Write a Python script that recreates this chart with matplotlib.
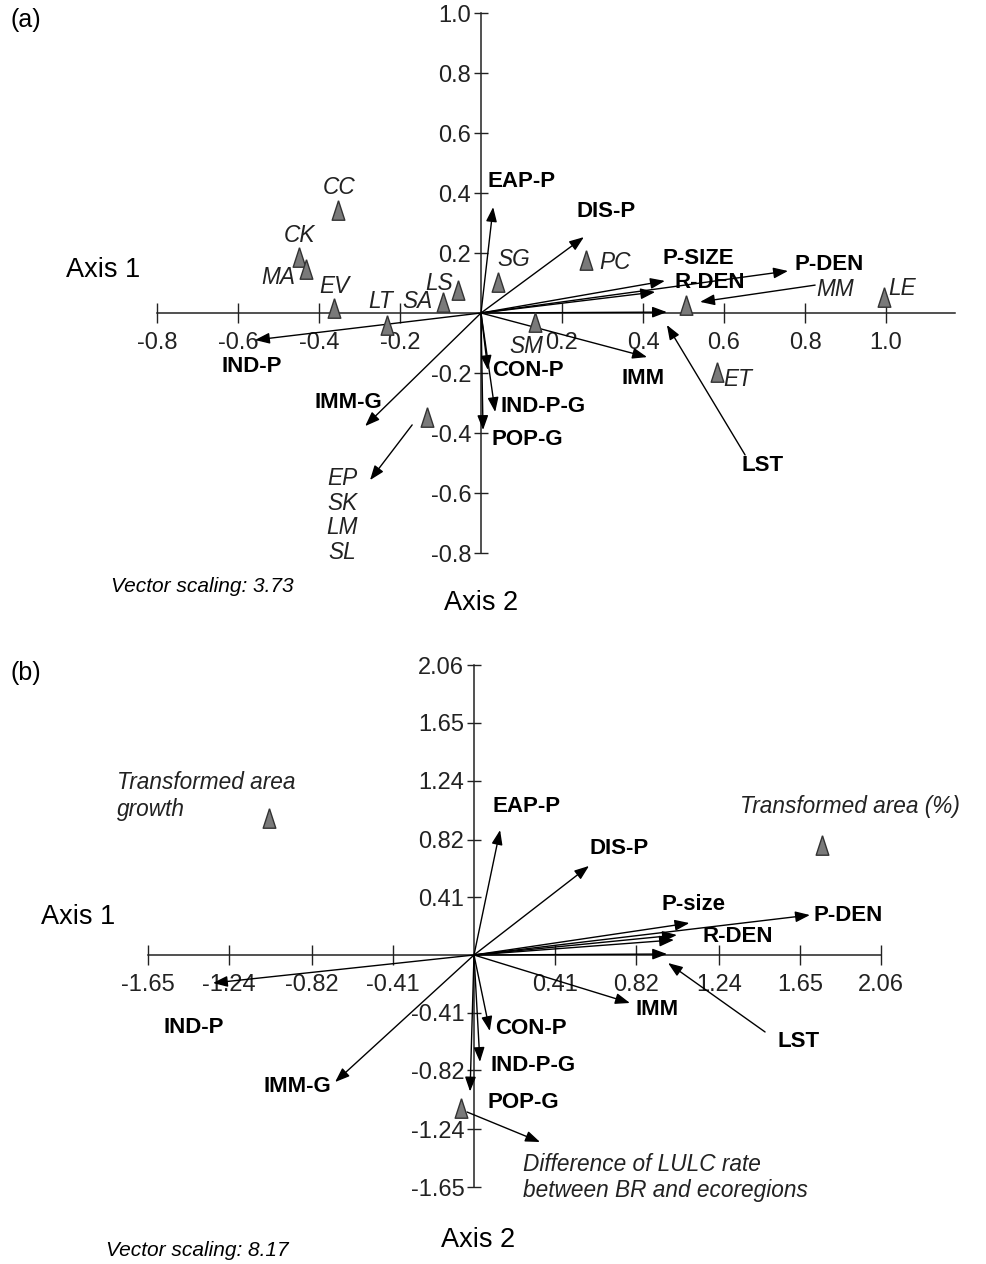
import matplotlib
matplotlib.use("Agg")
import matplotlib.pyplot as plt

plt.rcParams['font.family'] = ['Liberation Sans', 'DejaVu Sans']

# ---------------- data: panel (a) ----------------
a_ticks_x = [-0.8, -0.6, -0.4, -0.2, 0.2, 0.4, 0.6, 0.8, 1.0]
a_ticks_y = [-0.8, -0.6, -0.4, -0.2, 0.2, 0.4, 0.6, 0.8, 1.0]
a_ticklabels_x = ['-0.8', '-0.6', '-0.4', '-0.2', '0.2', '0.4', '0.6', '0.8', '1.0']
a_ticklabels_y = ['-0.8', '-0.6', '-0.4', '-0.2', '0.2', '0.4', '0.6', '0.8', '1.0']

a_sites = ['CC', 'CK', 'MA', 'EV', 'LT', 'SA', 'LS', 'SG', 'PC', 'SM', 'MM', 'LE', 'ET',
           'EP\nSK\nLM\nSL']
a_site_x = [-0.353, -0.449, -0.432, -0.363, -0.232, -0.094, -0.057, 0.042, 0.259, 0.133,
            0.506, 0.995, 0.583, -0.133]
a_site_y = [0.343, 0.187, 0.147, 0.017, -0.040, 0.037, 0.077, 0.103, 0.177, -0.030,
            0.027, 0.053, -0.197, -0.347]

a_vars = ['EAP-P', 'DIS-P', 'P-SIZE', 'R-DEN', 'P-DEN', 'LST', 'IMM', 'CON-P', 'IND-P-G',
          'POP-G', 'IND-P', 'IMM-G']
a_var_x = [0.030, 0.254, 0.454, 0.430, 0.758, 0.459, 0.410, 0.017, 0.035, 0.005, -0.558, -0.286]
a_var_y = [0.353, 0.253, 0.107, 0.070, 0.140, 0.003, -0.147, -0.190, -0.330, -0.390, -0.090, -0.377]

# ---------------- data: panel (b) ----------------
b_ticks = [-1.65, -1.24, -0.82, -0.41, 0.41, 0.82, 1.24, 1.65, 2.06]
b_ticklabels = ['-1.65', '-1.24', '-0.82', '-0.41', '0.41', '0.82', '1.24', '1.65', '2.06']

b_sites = ['Transformed area\ngrowth', 'Transformed area (%)',
           'Difference of LULC rate\nbetween BR and ecoregions']
b_site_x = [-1.037, 1.761, -0.066]
b_site_y = [0.974, 0.782, -1.087]

b_vars = ['EAP-P', 'DIS-P', 'P-size', 'R-DEN', '', 'P-DEN', 'LST', 'IMM', 'CON-P', 'IND-P-G',
          'POP-G', 'IND-P', 'IMM-G']
b_var_x = [0.132, 0.582, 1.090, 1.027, 1.012, 1.700, 0.977, 0.789, 0.080, 0.030, -0.020, -1.321, -0.703]
b_var_y = [0.888, 0.633, 0.227, 0.142, 0.107, 0.284, 0.007, -0.341, -0.540, -0.760, -0.970, -0.199, -0.903]

# ---------------- layout (label positions, styles) ----------------
a_var_lab = {  # (x, y, ha)
    'EAP-P': (0.015, 0.437, 'left'), 'DIS-P': (0.235, 0.337, 'left'),
    'P-SIZE': (0.449, 0.183, 'left'), 'R-DEN': (0.479, 0.103, 'left'),
    'P-DEN': (0.775, 0.160, 'left'), 'LST': (0.696, -0.507, 'center'),
    'IMM': (0.400, -0.217, 'center'), 'CON-P': (0.027, -0.190, 'left'),
    'IND-P-G': (0.047, -0.313, 'left'), 'POP-G': (0.027, -0.423, 'left'),
    'IND-P': (-0.565, -0.180, 'center'), 'IMM-G': (-0.328, -0.300, 'center'),
}
a_site_lab = {
    'CC': (-0.351, 0.420), 'CK': (-0.449, 0.260), 'MA': (-0.501, 0.120),
    'EV': (-0.363, 0.087), 'LT': (-0.247, 0.037), 'SA': (-0.158, 0.037),
    'LS': (-0.104, 0.100), 'SG': (0.081, 0.177), 'PC': (0.331, 0.167),
    'SM': (0.112, -0.113), 'MM': (0.874, 0.077), 'LE': (1.040, 0.083),
    'ET': (0.635, -0.223), 'EP\nSK\nLM\nSL': (-0.343, -0.675),
}
a_leaders = [((0.652, -0.473), (0.459, -0.040)),   # LST label -> vector
             ((0.825, 0.093), (0.541, 0.037)),     # MM label -> site
             ((-0.170, -0.373), (-0.274, -0.557))]  # site -> EP/SK/LM/SL

b_var_lab = {
    'EAP-P': (0.096, 1.052, 'left'), 'DIS-P': (0.587, 0.760, 'left'),
    'P-size': (0.951, 0.362, 'left'), 'R-DEN': (1.154, 0.128, 'left'),
    'P-DEN': (1.716, 0.284, 'left'), 'LST': (1.640, -0.618, 'center'),
    'IMM': (0.815, -0.384, 'left'), 'CON-P': (0.106, -0.519, 'left'),
    'IND-P-G': (0.081, -0.782, 'left'), 'POP-G': (0.066, -1.045, 'left'),
    'IND-P': (-1.417, -0.512, 'center'), 'IMM-G': (-0.896, -0.938, 'center'),
}
b_site_lab = {
    'Transformed area\ngrowth': (-1.807, 1.130, 'left'),
    'Transformed area (%)': (2.460, 1.052, 'right'),
    'Difference of LULC rate\nbetween BR and ecoregions': (0.248, -1.581, 'left'),
}
b_leaders = [((1.473, -0.547), (0.982, -0.057)),
             ((-0.035, -1.116), (0.334, -1.329))]

W, H = 986, 1264
fig = plt.figure(figsize=(W / 100, H / 100), dpi=100)

TRI = [(0, 1), (-0.65, -1), (0.65, -1), (0, 1)]
AXCOL = '#222222'
ARROW = dict(arrowstyle='-|>,head_length=0.8,head_width=0.3', color='black', lw=1.0,
             shrinkA=0, shrinkB=0, mutation_scale=11)
BOLD_FS = 16
ITAL_FS = 16.3
TICK_FS = 17


def make_axes(px0, py0, ppx, ppy, top, bottom):
    ax = fig.add_axes([0, 1 - bottom / H, 1, (bottom - top) / H])
    ax.set_xlim((0 - px0) / ppx, (W - px0) / ppx)
    ax.set_ylim((py0 - bottom) / ppy, (py0 - top) / ppy)
    ax.patch.set_visible(False)
    for s in ('top', 'right'):
        ax.spines[s].set_visible(False)
    for s in ('left', 'bottom'):
        ax.spines[s].set_position(('data', 0))
        ax.spines[s].set_color(AXCOL)
        ax.spines[s].set_linewidth(1.1)
    ax.tick_params(axis='x', direction='inout', length=15, width=1.0, color=AXCOL,
                   labelsize=TICK_FS, pad=6, labelcolor='#222222')
    ax.tick_params(axis='y', direction='inout', length=10, width=1.0, color=AXCOL,
                   labelsize=TICK_FS, pad=2, labelcolor='#222222')
    return ax


def draw(ax, vx, vy, vnames, vlab, sx, sy, snames, leaders):
    for x, y in zip(vx, vy):
        ax.annotate('', xy=(x, y), xytext=(0, 0), arrowprops=ARROW, zorder=3)
    for name in vnames:
        if name in vlab:
            x, y, ha = vlab[name]
            ax.text(x, y, name, ha=ha, va='center', fontsize=BOLD_FS, fontweight='bold', zorder=5)
    ax.plot(sx, sy, linestyle='none', marker=TRI, markersize=14, markerfacecolor='#7a7a7a',
            markeredgecolor='#333333', markeredgewidth=1.0, zorder=4)
    for (x0, y0), (x1, y1) in leaders:
        ax.annotate('', xy=(x1, y1), xytext=(x0, y0), arrowprops=ARROW, zorder=3)


# ---------------- panel (a) ----------------
axa = make_axes(481, 313, 405, 300, 0, 632)
axa.spines['bottom'].set_bounds(-0.8, 1.17)
axa.spines['left'].set_bounds(-0.8, 1.0)
axa.set_xticks(a_ticks_x, a_ticklabels_x)
axa.set_yticks(a_ticks_y, a_ticklabels_y)
draw(axa, a_var_x, a_var_y, a_vars, a_var_lab, a_site_x, a_site_y, a_sites, a_leaders)
for name in a_sites:
    x, y = a_site_lab[name]
    axa.text(x, y, name, ha='center', va='center', fontsize=ITAL_FS, style='italic',
             color='#222222', linespacing=1.1, zorder=5)

# ---------------- panel (b) ----------------
axb = make_axes(474, 955, 197.6, 140.7, 632, 1264)
axb.spines['bottom'].set_bounds(-1.65, 2.06)
axb.spines['left'].set_bounds(-1.65, 2.06)
axb.set_xticks(b_ticks, b_ticklabels)
axb.set_yticks(b_ticks, b_ticklabels)
draw(axb, b_var_x, b_var_y, b_vars, b_var_lab, b_site_x, b_site_y, b_sites, b_leaders)
for name in b_sites:
    x, y, ha = b_site_lab[name]
    axb.text(x, y, name, ha=ha, va='center', fontsize=ITAL_FS, style='italic',
             color='#222222', linespacing=1.2, zorder=5)

# ---------------- figure-level texts (pixel positions) ----------------
def ftext(px, py, s, **kw):
    fig.text(px / W, 1 - py / H, s, **kw)

ftext(11, 20, '(a)', fontsize=18, ha='left', va='center')
ftext(103, 270, 'Axis 1', fontsize=19.5, ha='center', va='center')
ftext(481, 603, 'Axis 2', fontsize=19.5, ha='center', va='center')
ftext(111, 586, 'Vector scaling: 3.73', fontsize=15, style='italic', ha='left', va='center')

ftext(11, 673, '(b)', fontsize=18, ha='left', va='center')
ftext(78, 917, 'Axis 1', fontsize=19.5, ha='center', va='center')
ftext(478, 1240, 'Axis 2', fontsize=19.5, ha='center', va='center')
ftext(106, 1250, 'Vector scaling: 8.17', fontsize=15, style='italic', ha='left', va='center')

fig.savefig('out.png', dpi=100)
